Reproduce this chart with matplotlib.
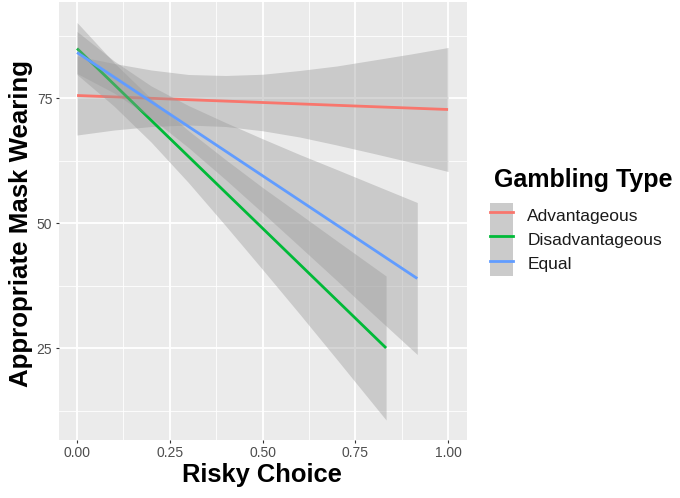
import matplotlib
matplotlib.use("Agg")
import matplotlib.pyplot as plt
from matplotlib.patches import Patch
from matplotlib.lines import Line2D
from matplotlib.legend_handler import HandlerTuple
from matplotlib.ticker import MultipleLocator

plt.rcParams['font.family'] = ['Liberation Sans', 'DejaVu Sans']

# ---- data ----
groups = ["Advantageous", "Disadvantageous", "Equal"]
colors = ["#F8766D", "#00BA38", "#619CFF"]

# fitted line endpoints (x, y)
adv_line_x = [0.0, 1.0]
adv_line_y = [75.5, 72.7]
dis_line_x = [0.0, 0.833]
dis_line_y = [84.9, 25.0]
equ_line_x = [0.0, 0.917]
equ_line_y = [84.1, 38.9]

# confidence band samples
adv_band_x = [0.0, 0.1, 0.2, 0.3, 0.4, 0.5, 0.6, 0.7, 0.8, 0.9, 1.0]
adv_band_lo = [67.6, 68.6, 69.3, 69.6, 69.3, 68.45, 67.2, 65.6, 63.9, 62.15, 60.3]
adv_band_hi = [83.4, 81.9, 80.6, 79.7, 79.5, 79.75, 80.5, 81.4, 82.6, 83.8, 85.1]

dis_band_x = [0.0, 0.1, 0.2, 0.3, 0.4, 0.5, 0.6, 0.7, 0.833]
dis_band_lo = [79.7, 73.35, 66.15, 58.1, 49.5, 40.7, 31.8, 22.75, 10.6]
dis_band_hi = [90.1, 82.05, 74.85, 68.5, 62.7, 57.1, 51.8, 46.45, 39.4]

equ_band_x = [0.0, 0.1, 0.2, 0.3, 0.4, 0.5, 0.6, 0.7, 0.8, 0.917]
equ_band_lo = [79.9, 76.0, 71.0, 65.1, 58.7, 52.05, 45.3, 38.5, 31.65, 23.7]
equ_band_hi = [88.3, 82.4, 77.4, 73.5, 70.1, 66.85, 63.7, 60.7, 57.65, 54.1]

x_ticks = [0.0, 0.25, 0.5, 0.75, 1.0]
x_ticklabels = ["0.00", "0.25", "0.50", "0.75", "1.00"]
y_ticks = [25, 50, 75]

lines = [(adv_line_x, adv_line_y), (dis_line_x, dis_line_y), (equ_line_x, equ_line_y)]
bands = [(adv_band_x, adv_band_lo, adv_band_hi),
         (dis_band_x, dis_band_lo, dis_band_hi),
         (equ_band_x, equ_band_lo, equ_band_hi)]

# ---- figure ----
fig = plt.figure(figsize=(6.8, 4.98), dpi=100)
ax = fig.add_axes([58.5 / 680, 58 / 498, 408.1 / 680, 438 / 498])
ax.set_facecolor("#EBEBEB")
for s in ax.spines.values():
    s.set_visible(False)

ax.set_xlim(-0.05, 1.05)
ax.set_ylim(6.6, 94.2)

ax.set_xticks(x_ticks)
ax.set_xticklabels(x_ticklabels)
ax.set_yticks(y_ticks)
ax.xaxis.set_minor_locator(MultipleLocator(0.125))
ax.yaxis.set_minor_locator(MultipleLocator(12.5))
ax.grid(which="major", color="white", linewidth=1.3, zorder=0)
ax.grid(which="minor", color="white", linewidth=0.6, zorder=0)
ax.set_axisbelow(True)
ax.tick_params(which="major", length=2.5, width=0.8, color="#333333",
               labelcolor="#4D4D4D", labelsize=10, pad=2)
ax.tick_params(which="minor", length=0)

z = 2
for (bx, blo, bhi), (lx, ly), c in zip(bands, lines, colors):
    ax.fill_between(bx, blo, bhi, color="#999999", alpha=0.4, linewidth=0, zorder=z)
    ax.plot(lx, ly, color=c, linewidth=2.0, zorder=z + 1, solid_capstyle="butt")
    z += 2

fig.text(262 / 680, 1 - 475 / 498, "Risky Choice", ha="center", va="center",
         fontsize=18.4, fontweight="bold")
fig.text(21 / 680, 1 - 223 / 498, "Appropriate Mask Wearing", ha="center", va="center",
         rotation=90, fontsize=18.6, fontweight="bold")

# legend title
fig.text(494 / 680, 1 - 187 / 498, "Gambling Type", ha="left", va="baseline",
         fontsize=18, fontweight="bold")

handles = [(Patch(facecolor="#CBCBCB", edgecolor="none"),
            Line2D([], [], color=c, linewidth=2.0)) for c in colors]
leg = fig.legend(handles, groups, loc="upper left",
                 bbox_to_anchor=(490 / 680, 1 - 203 / 498),
                 frameon=False, fontsize=12.5,
                 borderpad=0, labelspacing=0,
                 handlelength=1.35, handleheight=1.78, handletextpad=0.8,
                 borderaxespad=0,
                 handler_map={tuple: HandlerTuple(ndivide=1, pad=0)})
for t in leg.get_texts():
    t.set_color("#1A1A1A")

fig.savefig("out.png", dpi=100, facecolor="white")
